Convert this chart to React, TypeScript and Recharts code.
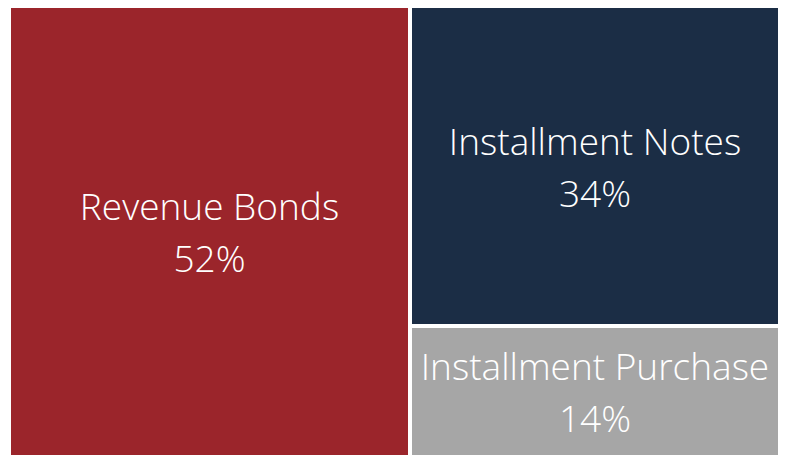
import { Treemap } from "recharts";

const categories = ["Revenue Bonds", "Installment Notes", "Installment Purchase"];
const shares = [52, 34, 14];
const colors = ["#9B252B", "#1B2D45", "#A6A6A6"];

const data = categories.map((name, i) => ({ name, size: shares[i], fill: colors[i] }));

function Cell(props: any) {
  const { x, y, width, height, depth, name, size, fill } = props;
  if (depth !== 1) return null;
  const cx = x + width / 2;
  const cy = y + height / 2;
  const textStyle = {
    textAnchor: "middle" as const,
    dominantBaseline: "central" as const,
    fill: "#fff",
    fontFamily: "'Open Sans', sans-serif",
    fontWeight: 300,
    fontSize: 37,
  };
  return (
    <g>
      <rect x={x} y={y} width={width} height={height} fill={fill} stroke="#fff" strokeWidth={4} />
      <text x={cx} y={cy - 26} {...textStyle}>
        {name}
      </text>
      <text x={cx} y={cy + 26} {...textStyle}>
        {size}%
      </text>
    </g>
  );
}

export default function App() {
  return (
    <div style={{ position: "fixed", top: 0, left: 0, width: 785, height: 456, overflow: "hidden", background: "#fff" }}>
      <div style={{ position: "absolute", left: 9, top: 6 }}>
        <Treemap
          width={771}
          height={451}
          data={data}
          dataKey="size"
          nameKey="name"
          content={<Cell />}
          isAnimationActive={false}
        />
      </div>
    </div>
  );
}
